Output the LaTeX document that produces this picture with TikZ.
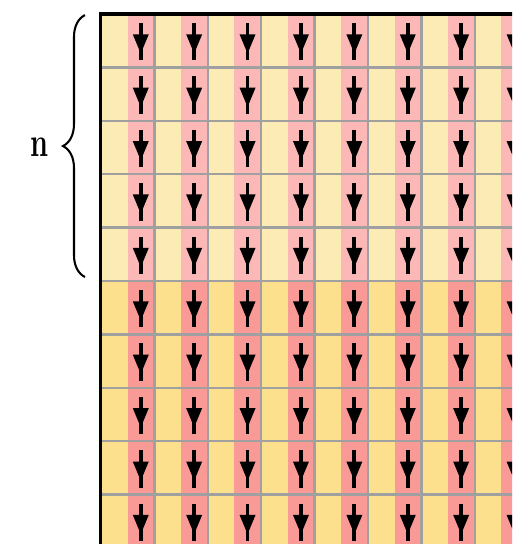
\documentclass[tikz,border=0pt]{standalone}
\usetikzlibrary{decorations.pathreplacing}

\definecolor{paleyellow}{RGB}{252,235,180}
\definecolor{palepink}{RGB}{251,184,182}
\definecolor{deepyellow}{RGB}{252,224,142}
\definecolor{deeppink}{RGB}{249,154,151}
\definecolor{gridgray}{RGB}{160,160,160}

\begin{document}
\begin{tikzpicture}[x=1cm, y=1cm,
    gridline/.style={gridgray, line width=1.2pt},
    flowstem/.style={line width=2pt}]
        \useasboundingbox (-1.891,0.262) rectangle (7.697,-9.925);
        \clip (-1.891,0.262) rectangle (7.697,-9.925);

        % Columns: light upper half, deeper lower half
        \foreach \c in {0,...,7} {
            \fill[paleyellow] (\c,0) rectangle (\c+0.5,-5);
            \fill[palepink] (\c+0.5,0) rectangle (\c+1,-5);
            \fill[deepyellow] (\c,-5) rectangle (\c+0.5,-10);
            \fill[deeppink] (\c+0.5,-5) rectangle (\c+1,-10);
        }

        % Grid lines between cells
        \foreach \r in {1,...,9} \draw[gridline] (0,-\r) -- (8,-\r);
        \foreach \c in {1,...,7} \draw[gridline] (\c,0) -- (\c,-10);

        % Down arrows in the pink columns
        \foreach \c in {0,...,7}
            \foreach \r in {0,...,9} {
                \draw[flowstem] (\c+0.745,-\r-0.17) -- (\c+0.745,-\r-0.87);
                \fill (\c+0.595,-\r-0.38) -- (\c+0.895,-\r-0.38) -- (\c+0.745,-\r-0.74) -- cycle;
            }

        % Outer border, top and left
        \draw[line width=1.6pt] (0,-10) -- (0,0) -- (8,0);

        % Brace over the upper five rows
        \coordinate (braceBot) at (-0.30,-4.925);
        \coordinate (braceTop) at (-0.30,-0.02);
        \draw[line width=1.1pt, decorate, decoration={brace, amplitude=11.7pt}] (braceBot) -- (braceTop);
        \node[font=\fontsize{22}{24}\selectfont, xscale=0.7, transform shape] (nlabel) at (-1.152,-2.49) {\textbf{n}};

    \end{tikzpicture}
\end{document}
